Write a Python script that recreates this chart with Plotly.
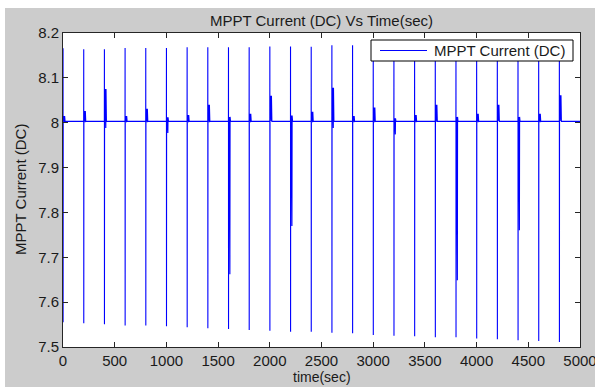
import plotly.graph_objects as go

# ---- data ----
spike_times = [0, 200, 400, 600, 800, 1000, 1200, 1400, 1600, 1800, 2000, 2200, 2400,
               2600, 2800, 3000, 3200, 3400, 3600, 3800, 4000, 4200, 4400, 4600, 4800]
spike_tops = [8.166, 8.164, 8.164, 8.1665, 8.1665, 8.1665, 8.168, 8.168, 8.168, 8.168,
              8.170, 8.170, 8.1695, 8.1725, 8.1725, 8.173, 8.173, 8.1735, 8.174, 8.174,
              8.1745, 8.175, 8.175, 8.1755, 8.176]
spike_bottoms = [7.555, 7.553, 7.5505, 7.548, 7.548, 7.546, 7.544, 7.542, 7.540, 7.538,
                 7.536, 7.534, 7.534, 7.532, 7.5305, 7.527, 7.525, 7.524, 7.5215, 7.5215,
                 7.519, 7.517, 7.515, 7.5135, 7.511]
ripple_highs = [8.015, 8.026, 8.075, 8.015, 8.031, 8.012, 8.017, 8.040, 8.013, 8.020,
                8.060, 8.016, 8.0245, 8.078, 8.015, 8.034, 8.010, 8.017, 8.040, 8.013,
                8.020, 8.040, 8.013, 8.020, 8.061]
ripple_lows = [8.001, 8.001, 7.988, 8.001, 8.001, 7.977, 8.001, 8.001, 7.662, 8.001,
               8.004, 7.770, 8.001, 7.988, 8.001, 8.001, 7.974, 8.001, 8.002, 7.649,
               8.001, 8.004, 7.760, 8.001, 8.004]
baseline = 8.003
t_end = 5000
series_name = "MPPT Current (DC)"

x_ticks = [0, 500, 1000, 1500, 2000, 2500, 3000, 3500, 4000, 4500, 5000]
y_ticks = [7.5, 7.6, 7.7, 7.8, 7.9, 8.0, 8.1, 8.2]
y_tick_text = ["7.5", "7.6", "7.7", "7.8", "7.9", "8", "8.1", "8.2"]

# ---- build the time series from the read values ----
xs, ys = [], []
for t, top, bot, hi, lo in zip(spike_times, spike_tops, spike_bottoms, ripple_highs, ripple_lows):
    xs += [t, t + 0.5, t + 1.0, t + 2.0]
    ys += [baseline, top, bot, baseline]
    xs += [t + 8, t + 10, t + 12, t + 14, t + 16, t + 18, t + 20]
    mid = baseline + (hi - baseline) * 0.6
    ys += [hi, lo, mid, lo, hi, baseline, baseline]
xs.append(t_end)
ys.append(baseline)

LINE_COLOR = "#0000ff"
fig = go.Figure()
fig.add_trace(go.Scatter(x=xs, y=ys, mode="lines", name=series_name,
                         line=dict(color=LINE_COLOR, width=1.1), showlegend=False))

W, H = 595, 390
L, R, T, B = 63, 15, 33, 43
pw, ph = W - L - R, H - T - B


def px_x(px):
    return (px - L) / pw


def px_y(py):
    return (H - B - py) / ph


font = "Liberation Sans, Arial, sans-serif"
TXT = "#1a1a1a"
axis_common = dict(showline=True, linecolor="#262626", linewidth=1, mirror="ticks",
                   ticks="inside", ticklen=5, tickcolor="#262626", showgrid=False,
                   zeroline=False, ticklabeloverflow="allow", automargin=False,
                   tickfont=dict(family=font, size=15, color=TXT))

legend_box = dict(x0=371, x1=573, y0=40, y1=61)
leg_mid = (legend_box["y0"] + legend_box["y1"]) / 2

fig.update_layout(
    width=W, height=H,
    margin=dict(l=L, r=R, t=T, b=B, autoexpand=False),
    paper_bgcolor="#cccccc",
    plot_bgcolor="white",
    title=dict(text="MPPT Current (DC) Vs Time(sec)", x=0.5, xref="paper",
               y=1 - 21 / H, yref="container", yanchor="middle",
               font=dict(family=font, size=15, color=TXT)),
    xaxis=dict(range=[0, 5000], tickvals=x_ticks, ticktext=[str(v) for v in x_ticks],
               **axis_common),
    yaxis=dict(range=[7.5, 8.2], tickvals=y_ticks, ticktext=y_tick_text, **axis_common),
    showlegend=False,
    annotations=[
        dict(text="time(sec)", x=0.5, y=px_y(376.5), xref="paper", yref="paper",
             showarrow=False, yanchor="middle", xanchor="center",
             font=dict(family=font, size=14, color=TXT)),
        dict(text="MPPT Current (DC)", x=px_x(20), y=0.5, xref="paper", yref="paper",
             showarrow=False, textangle=-90, xanchor="center", yanchor="middle",
             font=dict(family=font, size=15, color=TXT)),
        # legend entry text
        dict(text=series_name, x=px_x(432), y=px_y(leg_mid), xref="paper", yref="paper",
             showarrow=False, xanchor="left", yanchor="middle",
             font=dict(family=font, size=15, color=TXT)),
    ],
    shapes=[
        dict(type="rect", xref="paper", yref="paper", x0=px_x(0), x1=px_x(W), y0=px_y(0),
             y1=px_y(8), fillcolor="white", line=dict(width=0), layer="below"),
        dict(type="rect", xref="paper", yref="paper", x0=px_x(0), x1=px_x(5), y0=px_y(0),
             y1=px_y(H), fillcolor="white", line=dict(width=0), layer="below"),
        dict(type="rect", xref="paper", yref="paper", x0=px_x(0), x1=px_x(W), y0=px_y(387),
             y1=px_y(H), fillcolor="white", line=dict(width=0), layer="below"),
        # legend box and sample line
        dict(type="rect", xref="paper", yref="paper", x0=px_x(legend_box["x0"]),
             x1=px_x(legend_box["x1"]), y0=px_y(legend_box["y0"]), y1=px_y(legend_box["y1"]),
             fillcolor="white", line=dict(color="black", width=1), layer="above"),
        dict(type="line", xref="paper", yref="paper", x0=px_x(380), x1=px_x(427),
             y0=px_y(leg_mid), y1=px_y(leg_mid), line=dict(color=LINE_COLOR, width=1),
             layer="above"),
    ],
)

fig.write_html("out.html")
